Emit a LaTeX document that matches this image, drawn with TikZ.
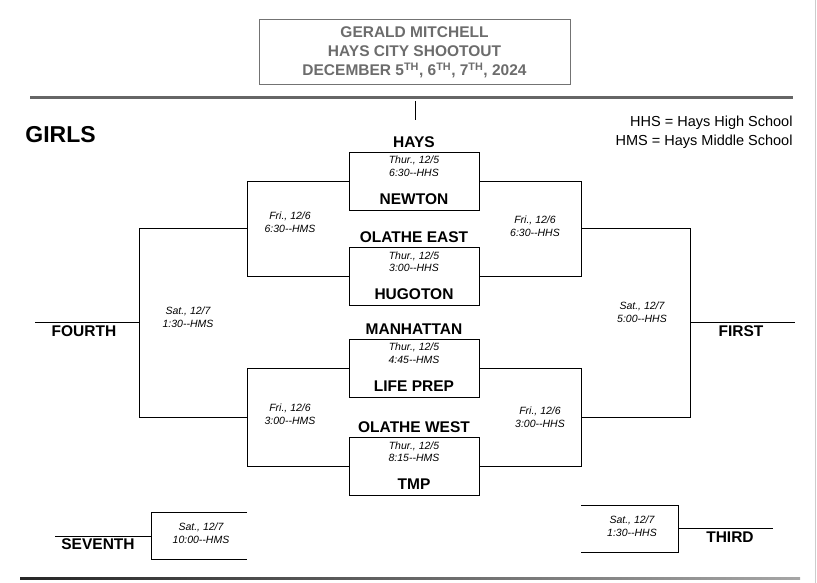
\documentclass[tikz,border=0pt]{standalone}
\usepackage{fontspec}
\setmainfont{Liberation Sans}
\begin{document}
\begin{tikzpicture}[x=1pt,y=-1pt,line width=0.9pt,
  team/.style={font=\fontsize{15.5}{16}\selectfont\bfseries,inner sep=0},
  date/.style={font=\fontsize{10.5}{12.5}\selectfont\itshape,align=center,inner sep=0},
  game/.style={draw,minimum width=130pt,minimum height=58pt,inner sep=0},
  ttl/.style={font=\fontsize{15.5}{19}\selectfont\bfseries,text=gray!85!black,align=center}]
\useasboundingbox (0,0) rectangle (817,583);
\draw[gray!40,line width=1pt] (815,0) -- (815,583);
% title
\node[draw=gray!90!black,line width=1pt,minimum width=311pt,minimum height=65pt] (title) at (414.5,52.5) {};
\node[ttl] (t) at (414.5,52.5) {GERALD MITCHELL\\HAYS CITY SHOOTOUT\\DECEMBER 5\textsuperscript{TH}, 6\textsuperscript{TH}, 7\textsuperscript{TH}, 2024};
\draw[gray!80!black,line width=3pt] (30,98) -- (793,98);
\draw (415,101) -- (415,120);
\node[font=\fontsize{23}{24}\selectfont\bfseries,anchor=west,inner sep=0] (girls) at (25,135) {GIRLS};
\node[font=\fontsize{14.5}{19}\selectfont,align=right,anchor=east,inner sep=0] (leg) at (793,132) {HHS = Hays High School\\HMS = Hays Middle School};
% first-round games
\foreach \n/\y/\a/\b/\d in {g1/181/HAYS/NEWTON/{Thur., 12/5\\6:30-{}-HHS},
  g2/276.5/OLATHE EAST/HUGOTON/{Thur., 12/5\\3:00-{}-HHS},
  g3/368/MANHATTAN/LIFE PREP/{Thur., 12/5\\4:45-{}-HMS},
  g4/466.5/OLATHE WEST/TMP/{Thur., 12/5\\8:15-{}-HMS}}{
  \node[game] (\n) at (414,\y) {};
  \node[team] (\n a) at (414,\y-39) {\a};
  \node[team] (\n b) at (414,\y+18) {\b};
  \node[date] (\n d) at (414,\y-15) {\d};
}
% semifinal brackets
\coordinate (l1) at (247,181); \coordinate (l2) at (247,276.5);
\coordinate (l3) at (247,368); \coordinate (l4) at (247,466.5);
\coordinate (r1) at (581,181); \coordinate (r2) at (581,276.5);
\coordinate (r3) at (581,368); \coordinate (r4) at (581,466.5);
\draw (g1.west) -- (l1) -- (l2) -- (g2.west);
\draw (g3.west) -- (l3) -- (l4) -- (g4.west);
\draw (g1.east) -- (r1) -- (r2) -- (g2.east);
\draw (g3.east) -- (r3) -- (r4) -- (g4.east);
\node[date] (f1) at (290,222) {Fri., 12/6\\6:30-{}-HMS};
\node[date] (f2) at (535,226) {Fri., 12/6\\6:30-{}-HHS};
\node[date] (f3) at (290,414) {Fri., 12/6\\3:00-{}-HMS};
\node[date] (f4) at (540,417) {Fri., 12/6\\3:00-{}-HHS};
% finals
\coordinate (lm1) at (247,228); \coordinate (lm2) at (247,417);
\coordinate (rm1) at (581,228); \coordinate (rm2) at (581,417);
\coordinate (ls1) at (139,228); \coordinate (ls2) at (139,417);
\coordinate (rs1) at (690,228); \coordinate (rs2) at (690,417);
\draw (lm1) -- (ls1) -- (ls2) -- (lm2);
\draw (rm1) -- (rs1) -- (rs2) -- (rm2);
\coordinate (lf) at (139,322); \coordinate (lfe) at (35,322);
\coordinate (rf) at (690,322); \coordinate (rfe) at (795,322);
\draw (lf) -- (lfe); \draw (rf) -- (rfe);
\node[date] (s1) at (188,317) {Sat., 12/7\\1:30-{}-HMS};
\node[date] (s2) at (642,312) {Sat., 12/7\\5:00-{}-HHS};
\node[team] (fourth) at (84,331) {FOURTH};
\node[team] (first) at (741,331) {FIRST};
% consolation
\coordinate (sa) at (247,512); \coordinate (sb) at (151,512);
\coordinate (sc) at (151,559); \coordinate (sd) at (247,559);
\coordinate (sm) at (151,536); \coordinate (se) at (55,536);
\draw (sa) -- (sb) -- (sc) -- (sd); \draw (sm) -- (se);
\node[date] (s3) at (201,533) {Sat., 12/7\\10:00-{}-HMS};
\node[team] (seventh) at (98,544) {SEVENTH};
\coordinate (ta) at (581,505); \coordinate (tb) at (678,505);
\coordinate (tc) at (678,552); \coordinate (td) at (581,552);
\coordinate (tm) at (678,528); \coordinate (te) at (773,528);
\draw (ta) -- (tb) -- (tc) -- (td); \draw (tm) -- (te);
\node[date] (s4) at (632,526) {Sat., 12/7\\1:30-{}-HHS};
\node[team] (third) at (730,537) {THIRD};
\shade[left color=black!85,right color=gray!70] (20,577) rectangle (800,579);
\end{tikzpicture}
\end{document}
